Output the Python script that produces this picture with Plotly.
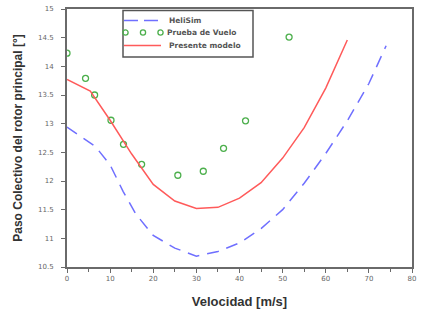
import plotly.graph_objects as go

# HeliSim (dashed blue)
heli_x = [0, 5, 6.6, 10, 13, 16, 20, 25, 30, 35, 40, 45, 50, 55, 60, 65, 70, 74]
heli_y = [12.94, 12.68, 12.6, 12.28, 11.82, 11.42, 11.05, 10.83, 10.69, 10.77, 10.92, 11.17, 11.5, 11.96, 12.48, 13.05, 13.7, 14.36]

# Prueba de Vuelo (green circles)
vuelo_x = [0, 4.3, 6.4, 10.2, 13.1, 17.3, 25.7, 31.6, 36.3, 41.4, 51.5]
vuelo_y = [14.23, 13.79, 13.5, 13.06, 12.64, 12.29, 12.10, 12.17, 12.57, 13.05, 14.51]

# Presente modelo (red)
modelo_x = [0, 5.4, 10, 15, 20, 25, 30, 35, 40, 45, 50, 55, 60, 65]
modelo_y = [13.77, 13.57, 13.06, 12.47, 11.94, 11.65, 11.52, 11.54, 11.7, 11.97, 12.4, 12.93, 13.62, 14.46]

series_names = ["HeliSim", "Prueba de Vuelo", "Presente modelo"]

x_ticks = [0, 10, 20, 30, 40, 50, 60, 70, 80]
y_ticks = [10.5, 11, 11.5, 12, 12.5, 13, 13.5, 14, 14.5, 15]

BLUE, GREEN, RED = "#6f6fff", "#4caf4c", "#ff5a5a"
BLUE_DASH = "12px,8px"

fig = go.Figure()
fig.add_trace(go.Scatter(x=heli_x, y=heli_y, mode="lines", name=series_names[0],
                         line=dict(color=BLUE, width=1.5, dash=BLUE_DASH)))
fig.add_trace(go.Scatter(x=vuelo_x, y=vuelo_y, mode="markers", name=series_names[1],
                         marker=dict(symbol="circle-open", size=6, color=GREEN,
                                     line=dict(width=1.3, color=GREEN))))
fig.add_trace(go.Scatter(x=modelo_x, y=modelo_y, mode="lines", name=series_names[2],
                         line=dict(color=RED, width=1.5)))

axis_common = dict(showline=True, mirror=True, linecolor="#6a6a6a", linewidth=2,
                   ticks="outside", ticklen=4, tickcolor="#6a6a6a", tickwidth=1,
                   showgrid=False, zeroline=False, automargin=False,
                   tickfont=dict(family="DejaVu Sans, Verdana", size=7, color="#666"))

fig.update_xaxes(range=[0, 80], tickvals=x_ticks, ticktext=[str(v) for v in x_ticks],
                 minor=dict(dtick=5, ticks="outside", ticklen=3, tickcolor="#6a6a6a"),
                 title=dict(text="<b>Velocidad [m/s]</b>", standoff=14,
                            font=dict(family="Liberation Sans, Arial", size=13, color="#333")),
                 **axis_common)
fig.update_yaxes(range=[10.5, 15], tickvals=y_ticks, ticktext=[f"{v:g}" for v in y_ticks],
                 ticklabelstandoff=6,
                 title=dict(text="<b>Paso Colectivo del rotor principal [°]</b>", standoff=13,
                            font=dict(family="Liberation Sans, Arial", size=12, color="#333")),
                 **axis_common)

# ---- hand-drawn legend box (paper coordinates) ----
W, H = 425, 314
ML, MR, MT, MB = 67, 13, 9, 47
PW, PH = W - ML - MR, H - MT - MB
def px(xp):
    return (xp - ML) / PW
def py(yp):
    return (H - MB - yp) / PH

shapes = [dict(type="rect", xref="paper", yref="paper",
               x0=px(123), x1=px(253), y0=py(57), y1=py(10.5),
               line=dict(color="#555", width=1.5), fillcolor="white", layer="above")]
rows_y = [20.5, 32.5, 45.5]
# HeliSim dashed sample
shapes.append(dict(type="line", xref="paper", yref="paper", x0=px(124), x1=px(161),
                   y0=py(rows_y[0]), y1=py(rows_y[0]),
                   line=dict(color=BLUE, width=1.5, dash="14px,6px"), layer="above"))
# Prueba de Vuelo: three circles
for cx in (125.5, 143, 160.5):
    shapes.append(dict(type="circle", xref="paper", yref="paper",
                       xsizemode="pixel", ysizemode="pixel",
                       xanchor=px(cx), yanchor=py(rows_y[1]),
                       x0=-2.6, x1=2.6, y0=-2.6, y1=2.6,
                       line=dict(color=GREEN, width=1.3), layer="above"))
# Presente modelo line sample
shapes.append(dict(type="line", xref="paper", yref="paper", x0=px(124), x1=px(161),
                   y0=py(rows_y[2]), y1=py(rows_y[2]),
                   line=dict(color=RED, width=1.5), layer="above"))

annotations = []
for name, ry, tx in zip(series_names, rows_y, (167, 165, 167)):
    annotations.append(dict(xref="paper", yref="paper", x=px(tx), y=py(ry),
                            xanchor="left", yanchor="middle", showarrow=False,
                            text=f"<b>{name}</b>",
                            font=dict(family="DejaVu Sans, Verdana", size=7.5, color="#555")))

fig.update_layout(
    width=W, height=H,
    margin=dict(l=ML, r=MR, t=MT, b=MB),
    plot_bgcolor="white", paper_bgcolor="white",
    showlegend=False,
    shapes=shapes, annotations=annotations,
)

fig.write_html("out.html", config={"displayModeBar": False},
               post_script="document.body.style.margin='0';")
